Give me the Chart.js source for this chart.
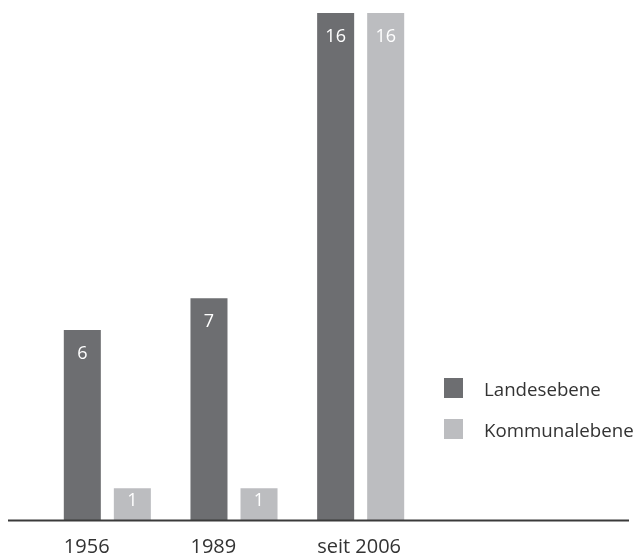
<!DOCTYPE html>
<html>
<head>
<meta charset="utf-8">
<script src="https://cdn.jsdelivr.net/npm/chart.js@4/dist/chart.umd.min.js"></script>
<style>
    body { margin: 0; background: #fff; }
    #wrap { position: relative; width: 635px; height: 560px; }
    #legende { position: absolute; left: 444px; top: 378px; font-family: "Open Sans", sans-serif; font-size: 18.7px; color: #333; }
    #legende div { display: flex; align-items: center; height: 20px; margin-bottom: 21px; white-space: nowrap; }
    #legende span.box { display: inline-block; width: 19px; height: 20px; margin-right: 21px; }
</style>
</head>
<body>
<div id="wrap">
    <canvas id="ebenen" width="635" height="560"></canvas>
    <div id="legende"></div>
</div>
<script>
var kategorien = ['1956', '1989', 'seit 2006'];
var landesebene = [6, 7, 16];
var kommunalebene = [1, 1, 16];
var farbeLand = '#6d6e71';
var farbeKommune = '#bcbdc0';

// Grundlinie über die ganze Breite
var grundlinie = {
    id: 'grundlinie',
    afterDraw: function (chart) {
        var ctx = chart.ctx;
        var y = chart.scales.y.getPixelForValue(0) + 0.5;
        ctx.save();
        ctx.strokeStyle = '#3a3a3a';
        ctx.lineWidth = 2;
        ctx.beginPath();
        ctx.moveTo(8, y);
        ctx.lineTo(629, y);
        ctx.stroke();
        ctx.restore();
    }
};

// Werte weiß in die Balken schreiben
var werte = {
    id: 'werte',
    afterDatasetsDraw: function (chart) {
        var ctx = chart.ctx;
        ctx.save();
        ctx.fillStyle = '#ffffff';
        ctx.font = '18px "Open Sans", sans-serif';
        ctx.textAlign = 'center';
        ctx.textBaseline = 'middle';
        chart.data.datasets.forEach(function (ds, i) {
            chart.getDatasetMeta(i).data.forEach(function (bar, j) {
                var h = bar.base - bar.y;
                var off = Math.min(24, h * 0.4);
                ctx.fillText(ds.data[j], bar.x, bar.y + off);
            });
        });
        ctx.restore();
    }
};

var ctx_ebenen = document.getElementById('ebenen').getContext('2d');
var chart_ebenen = new Chart(ctx_ebenen, {
    type: 'bar',
    data: {
        labels: kategorien,
        datasets: [
            { label: 'Landesebene', data: landesebene, backgroundColor: farbeLand },
            { label: 'Kommunalebene', data: kommunalebene, backgroundColor: farbeKommune }
        ]
    },
    options: {
        responsive: false,
        animation: false,
        categoryPercentage: 0.79,
        barPercentage: 0.74,
        layout: { padding: { top: 13, left: 44, right: 211, bottom: 0 } },
        plugins: {
            legend: { display: false },
            tooltip: { enabled: false }
        },
        scales: {
            y: { display: false, min: 0, max: 16 },
            x: {
                grid: { display: false },
                border: { display: false },
                afterFit: function (s) { s.height = 40; },
                ticks: {
                    align: 'start',
                    labelOffset: -43.5,
                    padding: 7,
                    color: '#333',
                    font: { family: '"Open Sans", sans-serif', size: 20 }
                }
            }
        }
    },
    plugins: [grundlinie, werte]
});

var legende = document.getElementById('legende');
chart_ebenen.data.datasets.forEach(function (ds) {
    var zeile = document.createElement('div');
    zeile.innerHTML = '<span class="box" style="background:' + ds.backgroundColor + '"></span>' + ds.label;
    legende.appendChild(zeile);
});
</script>
</body>
</html>
